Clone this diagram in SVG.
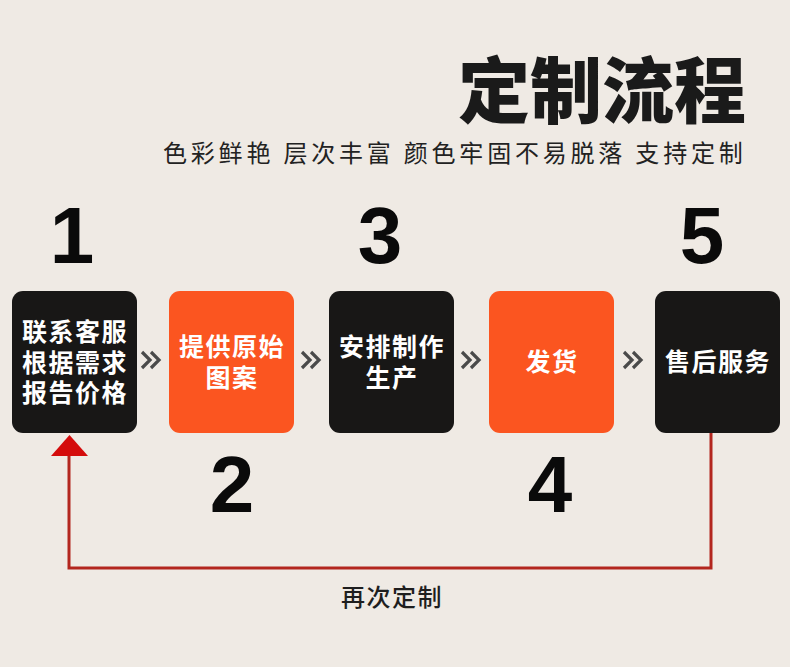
<svg xmlns="http://www.w3.org/2000/svg" width="790" height="667" viewBox="0 0 790 667">
<style>
.cjk{font-family:"Noto Sans CJK SC","Noto Sans",sans-serif}
.title{font-size:72px;font-weight:900;fill:#1a1a1a}
.sub{font-size:24px;font-weight:400;fill:#222;letter-spacing:3.8px}
.num{font-family:"Liberation Sans",Arial,sans-serif;font-size:80px;font-weight:700;fill:#0a0a0a;text-anchor:middle}
.dark{fill:#181716}
.orange{fill:#fb5520}
.lbl{font-size:25px;font-weight:700;fill:#fff;text-anchor:middle;letter-spacing:1.5px}
.chev{fill:none;stroke:#4a4a4a;stroke-width:3.2;stroke-linecap:butt;stroke-linejoin:miter}
.red{fill:none;stroke:#b3261e;stroke-width:3}
.again{font-size:24px;font-weight:500;fill:#1e1e1e;text-anchor:middle;letter-spacing:1.5px}
</style>
<rect width="790" height="667" fill="#efeae4"/>
<text class="cjk title" x="458" y="117">定制流程</text>
<text class="cjk sub" x="163" y="162">色彩鲜艳 层次丰富 颜色牢固不易脱落 支持定制</text>

<text class="num" x="72" y="263">1</text>
<text class="num" x="232" y="512">2</text>
<text class="num" x="380" y="263">3</text>
<text class="num" x="550" y="512">4</text>
<text class="num" x="702" y="263">5</text>

<g id="node1">
<rect class="dark" x="12" y="291" width="125" height="142" rx="11"/>
<text class="cjk lbl" x="75" y="341">联系客服</text>
<text class="cjk lbl" x="75" y="372">根据需求</text>
<text class="cjk lbl" x="75" y="402">报告价格</text>
</g>
<g id="node2">
<rect class="orange" x="169" y="291" width="125" height="142" rx="11"/>
<text class="cjk lbl" x="232" y="356">提供原始</text>
<text class="cjk lbl" x="232" y="387">图案</text>
</g>
<g id="node3">
<rect class="dark" x="329" y="291" width="125" height="142" rx="11"/>
<text class="cjk lbl" x="392" y="356">安排制作</text>
<text class="cjk lbl" x="392" y="387">生产</text>
</g>
<g id="node4">
<rect class="orange" x="489" y="291" width="125" height="142" rx="11"/>
<text class="cjk lbl" x="552" y="371">发货</text>
</g>
<g id="node5">
<rect class="dark" x="655" y="291" width="125" height="142" rx="11"/>
<text class="cjk lbl" x="718" y="371">售后服务</text>
</g>

<g id="connectors">
<path class="chev" d="M142 352 L150 360 L142 368 M151 352 L159 360 L151 368"/>
<path class="chev" d="M302 352 L310 360 L302 368 M311 352 L319 360 L311 368"/>
<path class="chev" d="M462 352 L470 360 L462 368 M471 352 L479 360 L471 368"/>
<path class="chev" d="M624 352 L632 360 L624 368 M633 352 L641 360 L633 368"/>
<path class="red" d="M711 433 L711 568 L69 568 L69 455"/>
<polygon points="51,456 88,456 69.5,435" fill="#d40c0c"/>
</g>
<text class="cjk again" x="392" y="606">再次定制</text>
</svg>
